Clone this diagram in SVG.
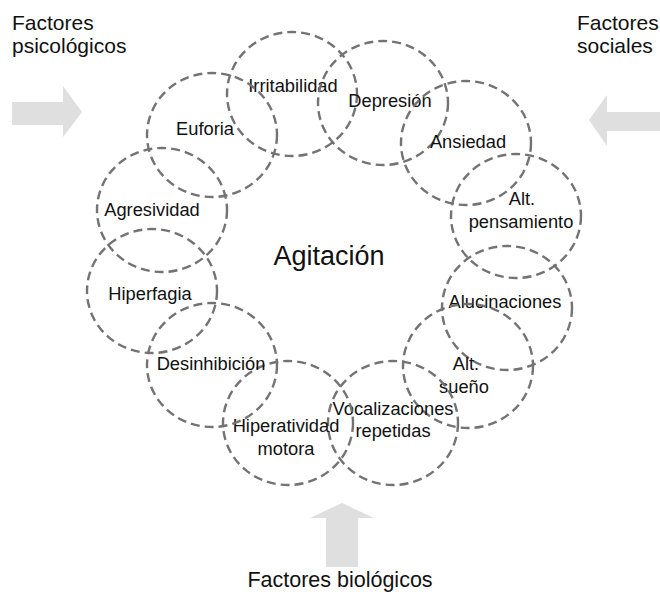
<svg xmlns="http://www.w3.org/2000/svg" width="660" height="594" viewBox="0 0 660 594">
<style>
.c{fill:none;stroke:#737373;stroke-width:2.4;stroke-dasharray:9 5}
.t{font-family:"Liberation Sans",Arial,sans-serif;font-size:18.3px;fill:#111;text-anchor:middle}
.f{font-family:"Liberation Sans",Arial,sans-serif;font-size:21px;fill:#111}
.a{fill:#dfdfdf}
</style>
<rect width="660" height="594" fill="#fff"/>
<g id="arrows">
<polygon class="a" points="12,102 63,102 63,86 82,112 63,137 63,125 12,125"/>
<polygon class="a" points="660,112 607,112 607,95 589,120 607,146 607,131 660,131"/>
<polygon class="a" points="326,567 326,518 310,518 342,503 374,518 358,518 358,567"/>
</g>
<g id="node-irritabilidad"><ellipse class="c" cx="292" cy="94" rx="65" ry="62"/><text class="t" x="293" y="92">Irritabilidad</text></g>
<g id="node-depresion"><ellipse class="c" cx="383" cy="103" rx="65" ry="62"/><text class="t" x="390" y="107">Depresión</text></g>
<g id="node-ansiedad"><ellipse class="c" cx="466" cy="143" rx="65" ry="62"/><text class="t" x="468" y="148">Ansiedad</text></g>
<g id="node-pensamiento"><ellipse class="c" cx="516" cy="216" rx="65" ry="62"/><text class="t" x="522" y="205">Alt.</text><text class="t" x="521" y="228">pensamiento</text></g>
<g id="node-alucinaciones"><ellipse class="c" cx="507" cy="308" rx="65" ry="62"/><text class="t" x="505" y="308">Alucinaciones</text></g>
<g id="node-sueno"><ellipse class="c" cx="468" cy="366" rx="65" ry="62"/><text class="t" x="466" y="370">Alt.</text><text class="t" x="464" y="393">sueño</text></g>
<g id="node-vocalizaciones"><ellipse class="c" cx="393" cy="423" rx="65" ry="62"/><text class="t" x="393" y="415">Vocalizaciones</text><text class="t" x="393" y="437">repetidas</text></g>
<g id="node-hiperatividad"><ellipse class="c" cx="288" cy="423" rx="65" ry="62"/><text class="t" x="286" y="432">Hiperatividad</text><text class="t" x="286" y="455">motora</text></g>
<g id="node-desinhibicion"><ellipse class="c" cx="212" cy="365" rx="65" ry="62"/><text class="t" x="211" y="370">Desinhibición</text></g>
<g id="node-hiperfagia"><ellipse class="c" cx="152" cy="291" rx="65" ry="62"/><text class="t" x="150" y="300">Hiperfagia</text></g>
<g id="node-agresividad"><ellipse class="c" cx="162" cy="210" rx="65" ry="62"/><text class="t" x="152" y="216">Agresividad</text></g>
<g id="node-euforia"><ellipse class="c" cx="212" cy="135" rx="65" ry="62"/><text class="t" x="205" y="135">Euforia</text></g>
<g id="node-agitacion"><text class="t" x="329" y="265" style="font-size:27px">Agitación</text></g>
<g id="labels">
<text class="f" x="12" y="30">Factores</text>
<text class="f" x="12" y="53">psicológicos</text>
<text class="f" x="577" y="30">Factores</text>
<text class="f" x="577" y="53">sociales</text>
<text class="f" x="340" y="587" text-anchor="middle" style="font-size:21.5px">Factores biológicos</text>
</g>
</svg>
